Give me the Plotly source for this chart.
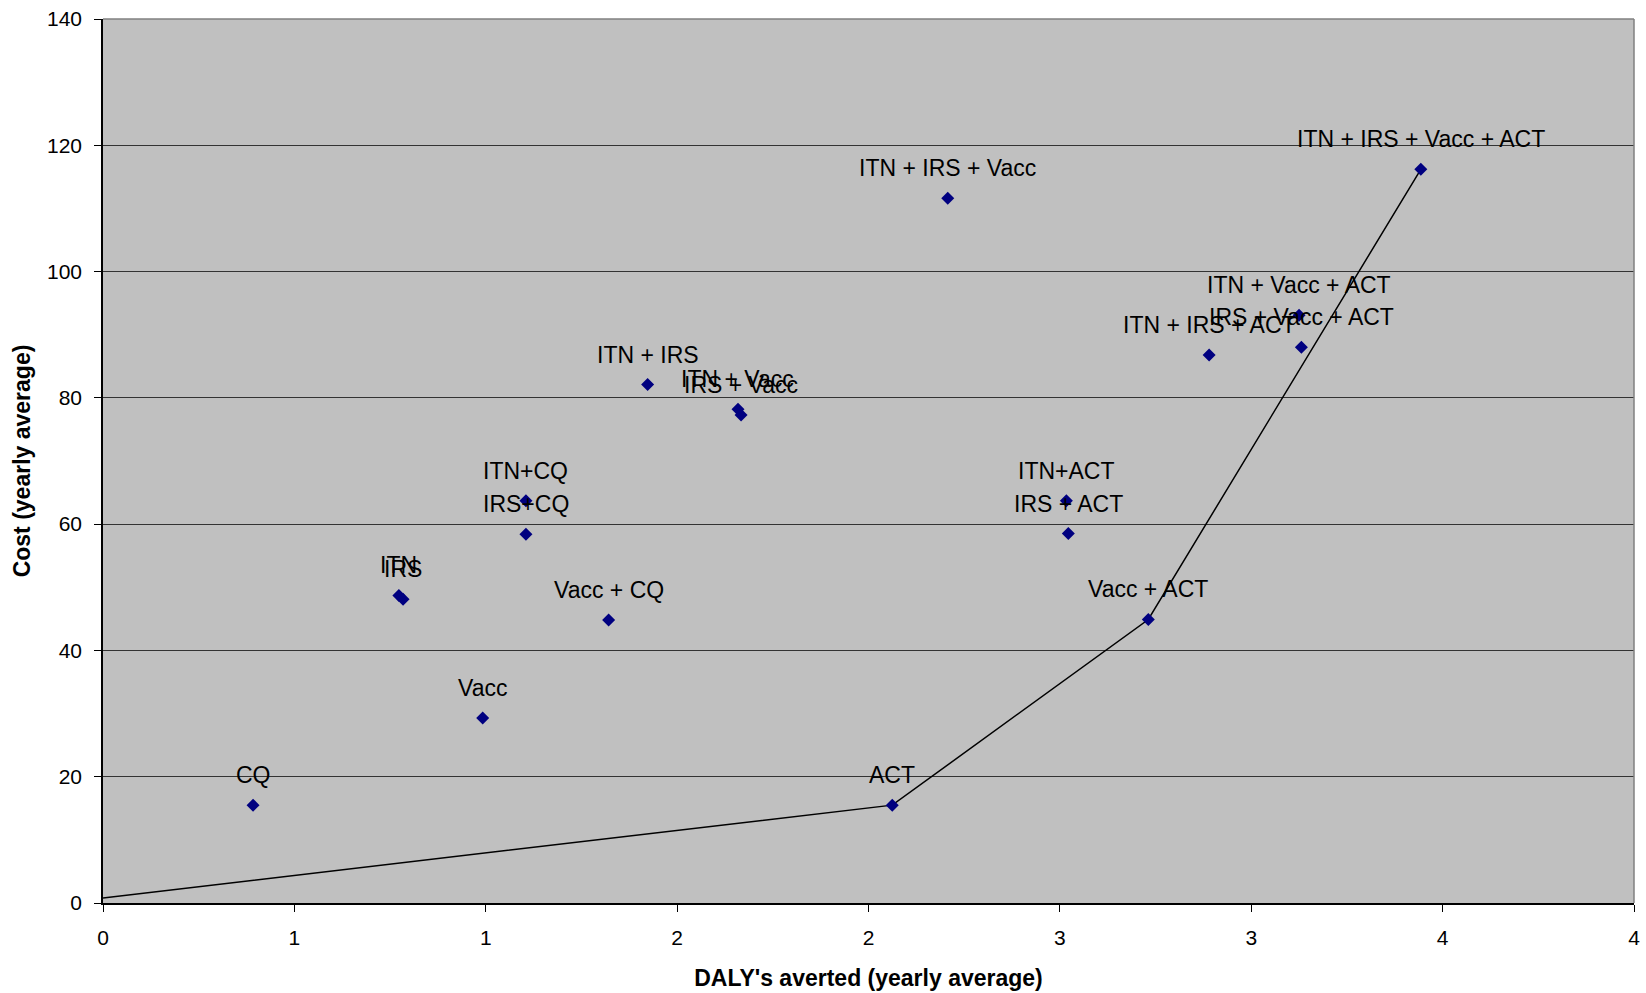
import plotly.graph_objects as go

# Data
labels = ["CQ", "ITN", "IRS", "Vacc", "ITN+CQ", "IRS+CQ", "Vacc + CQ", "ITN + IRS",
          "ITN + Vacc", "IRS + Vacc", "ITN + IRS + Vacc", "ACT", "ITN+ACT", "IRS + ACT",
          "Vacc + ACT", "ITN + IRS + ACT", "ITN + Vacc + ACT", "IRS + Vacc + ACT",
          "ITN + IRS + Vacc + ACT"]
dalys = [0.392, 0.773, 0.784, 0.992, 1.105, 1.105, 1.321, 1.423,
         1.659, 1.667, 2.207, 2.062, 2.517, 2.522,
         2.731, 2.890, 3.125, 3.131, 3.443]
costs = [15.5, 48.7, 48.1, 29.3, 63.7, 58.4, 44.8, 82.1,
         78.2, 77.3, 111.6, 15.5, 63.7, 58.5,
         44.9, 86.8, 93.1, 88.0, 116.2]

frontier_x = [0.0, 2.062, 2.731, 3.443]
frontier_y = [0.8, 15.5, 44.9, 116.2]

x_tickvals = [0, 0.5, 1, 1.5, 2, 2.5, 3, 3.5, 4]
x_ticktext = ["0", "1", "1", "2", "2", "3", "3", "4", "4"]
y_tickvals = [0, 20, 40, 60, 80, 100, 120, 140]

FONT = "Liberation Sans, Arial, sans-serif"

fig = go.Figure()
fig.add_trace(go.Scatter(x=frontier_x, y=frontier_y, mode="lines",
                         line=dict(color="black", width=1.5), hoverinfo="skip",
                         showlegend=False))
fig.add_trace(go.Scatter(x=dalys, y=costs, mode="markers", text=labels,
                         marker=dict(symbol="diamond", size=10, color="#000080"),
                         showlegend=False))

for lab, xv, yv in zip(labels, dalys, costs):
    fig.add_annotation(x=xv, y=yv, text=lab, showarrow=False, xanchor="center",
                       yanchor="middle", yshift=30,
                       font=dict(family=FONT, size=23, color="black"))

# gray top & right border
fig.add_shape(type="line", xref="paper", yref="paper", x0=0, x1=1, y0=1, y1=1,
              line=dict(color="#808080", width=1.5))
fig.add_shape(type="line", xref="paper", yref="paper", x0=1, x1=1, y0=0, y1=1,
              line=dict(color="#808080", width=1.5))

fig.update_layout(
    width=1646, height=993,
    margin=dict(l=103, r=12, t=19, b=90),
    paper_bgcolor="white", plot_bgcolor="#C0C0C0",
    font=dict(family=FONT, size=21, color="black"),
    xaxis=dict(range=[0, 4], tickvals=x_tickvals, ticktext=x_ticktext,
               showgrid=False, zeroline=False, showline=True, linecolor="black",
               linewidth=1.5, ticks="outside", ticklen=7, tickcolor="black",
               tickfont=dict(family=FONT, size=21), ticklabelstandoff=8,
               ticklabeloverflow="allow", automargin=False,
               title=dict(text="<b>DALY's averted (yearly average)</b>",
                          font=dict(family=FONT, size=23), standoff=22)),
    yaxis=dict(range=[0, 140], tickvals=y_tickvals,
               showgrid=True, gridcolor="#333333", gridwidth=1,
               zeroline=False, showline=True, linecolor="black", linewidth=1.5,
               ticks="outside", ticklen=7, tickcolor="black",
               tickfont=dict(family=FONT, size=21), ticklabelstandoff=8,
               ticklabeloverflow="allow", automargin=False,
               title=dict(text="<b>Cost (yearly average)</b>",
                          font=dict(family=FONT, size=23), standoff=10)),
)

fig.write_html("out.html")
